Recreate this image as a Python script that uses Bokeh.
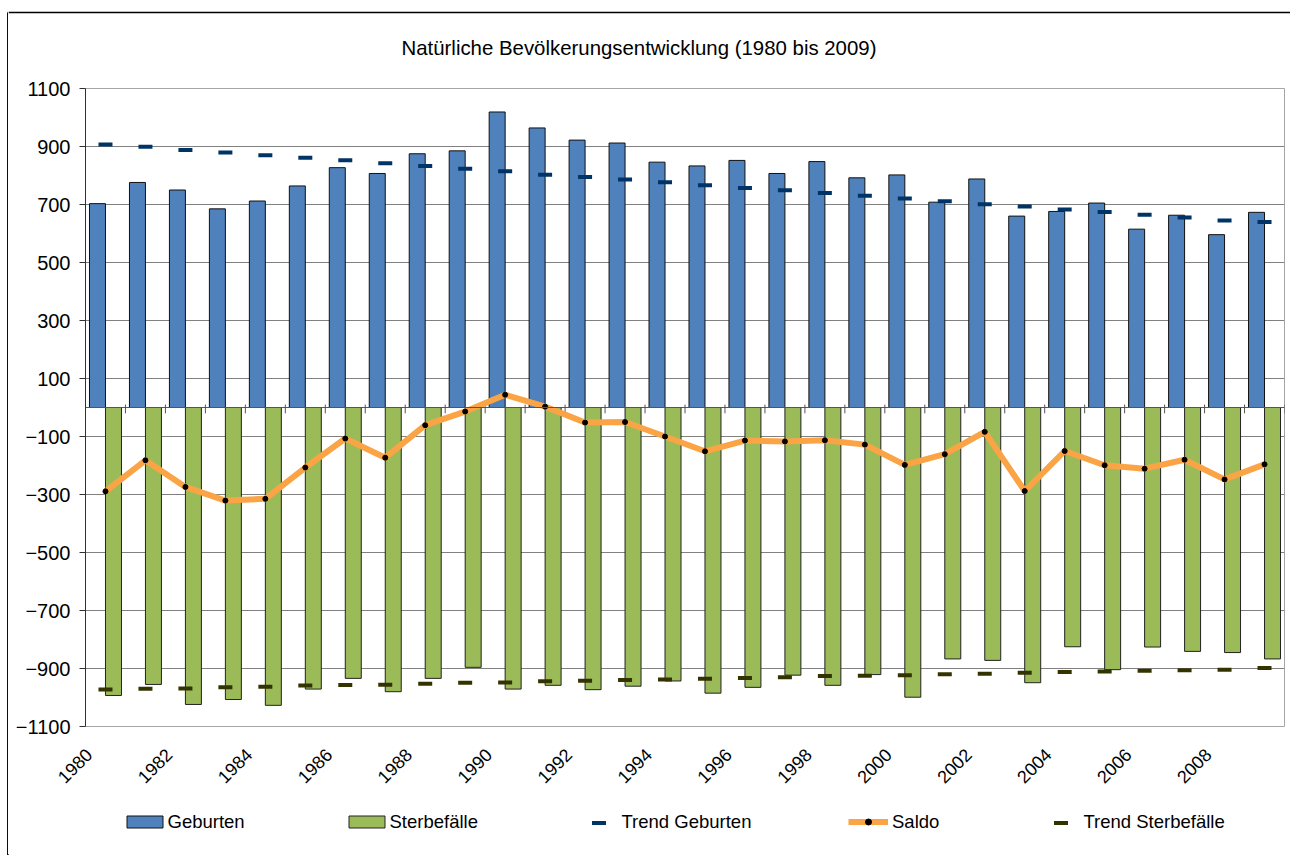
from bokeh.plotting import figure
from bokeh.layouts import row, column
from bokeh.models import (Range1d, FixedTicker, CustomJSTickFormatter, Span, Legend,
                          LegendItem, Label)
from bokeh.embed import file_html
from bokeh.resources import INLINE

# ---------------- data ----------------
years = list(range(1980, 2010))
geburten = [703, 776, 750, 685, 712, 764, 827, 807, 875, 885,
            1019, 964, 922, 912, 846, 833, 852, 807, 848, 792,
            802, 708, 788, 660, 676, 705, 615, 663, 596, 673]
sterbefaelle = [-993, -955, -1024, -1007, -1027, -971, -934, -980, -934, -896,
                -971, -958, -973, -961, -943, -985, -965, -923, -958, -921,
                -999, -867, -872, -949, -825, -904, -826, -841, -845, -867]
saldo = [-289, -182, -274, -321, -315, -207, -107, -173, -61, -14,
         44, 3, -52, -50, -100, -151, -114, -117, -113, -128,
         -198, -161, -84, -288, -150, -199, -211, -180, -248, -196]
trend_geburten = [907, 899, 888, 879, 870, 861, 853, 842, 833, 823,
                  815, 803, 795, 786, 777, 766, 757, 749, 740, 730,
                  721, 711, 701, 693, 683, 674, 665, 655, 645, 640]
trend_sterbefaelle = [-972, -970, -969, -965, -963, -959, -957, -956, -953, -949,
                      -948, -944, -942, -940, -938, -935, -933, -930, -926, -925,
                      -923, -920, -918, -915, -912, -910, -908, -906, -904, -898]
y_ticks = list(range(-1100, 1101, 200))
x_label_years = years[::2]

title_text = "Natürliche Bevölkerungsentwicklung (1980 bis 2009)"
FONT = "Liberation Sans"

C_GEB = "#4F81BD"
C_STER = "#9BBB59"
C_TG = "#003366"
C_TS = "#333300"
C_SALDO = "#FAA446"


def blank_fig(w, h, xr, yr):
    f = figure(width=w, height=h, output_backend="svg", toolbar_location=None,
               x_range=xr, y_range=yr, x_axis_location=None, y_axis_location=None,
               min_border=0, frame_align=False)
    f.grid.visible = False
    f.outline_line_color = None
    f.background_fill_color = "white"
    f.border_fill_color = "white"
    return f


# ---------------- left strip (outer chart border, left edge) ----------------
strip = blank_fig(8, 855, Range1d(0, 8), Range1d(855, 0))
strip.segment(x0=[7.3, 7.3], y0=[12, 12], x1=[7.3, 8], y1=[855, 12],
              line_color="black", line_width=1.5)

# ---------------- title strip ----------------
top = blank_fig(1282, 76, Range1d(8, 1290), Range1d(76, 0))
top.segment(x0=[8], y0=[12], x1=[1290], y1=[12], line_color="black", line_width=1.5)
top.add_layout(Label(x=401, y=47, text=title_text, text_align="left",
                     text_baseline="alphabetic", text_font=FONT,
                     text_font_size="20.4px", text_color="black"))

# ---------------- main chart ----------------
p = figure(width=1282, height=724, output_backend="svg", toolbar_location=None,
           x_range=Range1d(1979.5, 2009.5), y_range=Range1d(-1100, 1100),
           min_border_left=77, min_border_right=6, min_border_top=12,
           min_border_bottom=74, frame_align=False)
p.background_fill_color = "white"
p.border_fill_color = "white"
p.outline_line_color = "#a6a6a6"
p.outline_line_width = 1

p.xgrid.visible = False
p.ygrid.ticker = FixedTicker(ticks=y_ticks)
p.ygrid.grid_line_color = "#808080"
p.ygrid.grid_line_width = 1

ya = p.yaxis[0]
ya.ticker = FixedTicker(ticks=y_ticks)
ya.axis_line_color = "#303030"
ya.major_tick_line_color = "#303030"
ya.major_tick_out = 6
ya.major_tick_in = 0
ya.minor_tick_line_color = None
ya.major_label_standoff = 9
ya.major_label_text_font = FONT
ya.major_label_text_font_size = "20px"
ya.major_label_text_color = "black"

LABEL_SHIFT = 0.41
xa = p.xaxis[0]
xa.ticker = FixedTicker(ticks=[y - LABEL_SHIFT for y in x_label_years])
xa.formatter = CustomJSTickFormatter(code="return String(Math.round(tick + %s));" % LABEL_SHIFT)
xa.axis_line_color = None
xa.major_tick_line_color = None
xa.minor_tick_line_color = None
xa.major_tick_out = 0
xa.major_tick_in = 0
xa.major_label_standoff = 25
xa.major_label_orientation = 0.7853981634
xa.major_label_text_font = FONT
xa.major_label_text_font_size = "18px"
xa.major_label_text_color = "black"

p.vbar(x=[y - 0.2 for y in years], top=geburten, bottom=0, width=0.4,
       fill_color=C_GEB, line_color="#111111", line_width=1)
p.vbar(x=[y + 0.2 for y in years], top=0, bottom=sterbefaelle, width=0.4,
       fill_color=C_STER, line_color="#222222", line_width=1)

p.add_layout(Span(location=0, dimension="width", line_color="#555555", line_width=1))
bounds = [y + 0.5 for y in years]
p.segment(x0=bounds, y0=[-20] * len(bounds), x1=bounds, y1=[10] * len(bounds),
          line_color="#555555", line_width=1)

p.scatter(x=years, y=trend_geburten, marker="dash", size=14, line_color=C_TG, line_width=4)
p.scatter(x=years, y=trend_sterbefaelle, marker="dash", size=14, line_color=C_TS, line_width=4)
p.line(x=years, y=saldo, line_color=C_SALDO, line_width=6, line_join="round")
p.scatter(x=years, y=saldo, marker="circle", size=5, fill_color="black", line_color="black")

# ---------------- legend strip ----------------
lf = blank_fig(1282, 55, Range1d(0, 1282), Range1d(0, 55))
g_geb = lf.vbar(x=[-100], top=[1], width=1, fill_color=C_GEB, line_color="#111111", line_width=1)
g_ster = lf.vbar(x=[-100], top=[1], width=1, fill_color=C_STER, line_color="#222222", line_width=1)
g_tg = lf.scatter(x=[-100], y=[1], marker="dash", line_color=C_TG, line_width=4)
g_sl = lf.line(x=[-100, -90], y=[1, 1], line_color=C_SALDO, line_width=6)
g_sd = lf.scatter(x=[-100], y=[1], marker="circle", size=5, fill_color="black", line_color="black")
g_ts = lf.scatter(x=[-100], y=[1], marker="dash", line_color=C_TS, line_width=4)


def add_legend(label, renderers, x, y, gw, gh, standoff):
    lg = Legend(items=[LegendItem(label=label, renderers=renderers)],
                location=(x, y), orientation="horizontal",
                glyph_width=gw, glyph_height=gh, label_height=gh,
                label_standoff=standoff, padding=0, margin=0, spacing=0,
                border_line_color=None, background_fill_alpha=0,
                label_text_font=FONT, label_text_font_size="18.5px",
                label_text_color="black")
    lf.add_layout(lg)


add_legend("Geburten", [g_geb], 113.5, 22.5, 45, 15, 1)
add_legend("Sterbefälle", [g_ster], 335.5, 22.5, 45, 15, 1)
add_legend("Trend Geburten", [g_tg], 567.5, 15.5, 45, 35, 1)
add_legend("Saldo", [g_sl, g_sd], 840, 22.5, 40, 15, 4)
add_legend("Trend Sterbefälle", [g_ts], 1029.5, 15.5, 45, 35, 1)

layout = row(strip, column(top, p, lf))
open("out.html", "w").write(file_html(layout, INLINE))
